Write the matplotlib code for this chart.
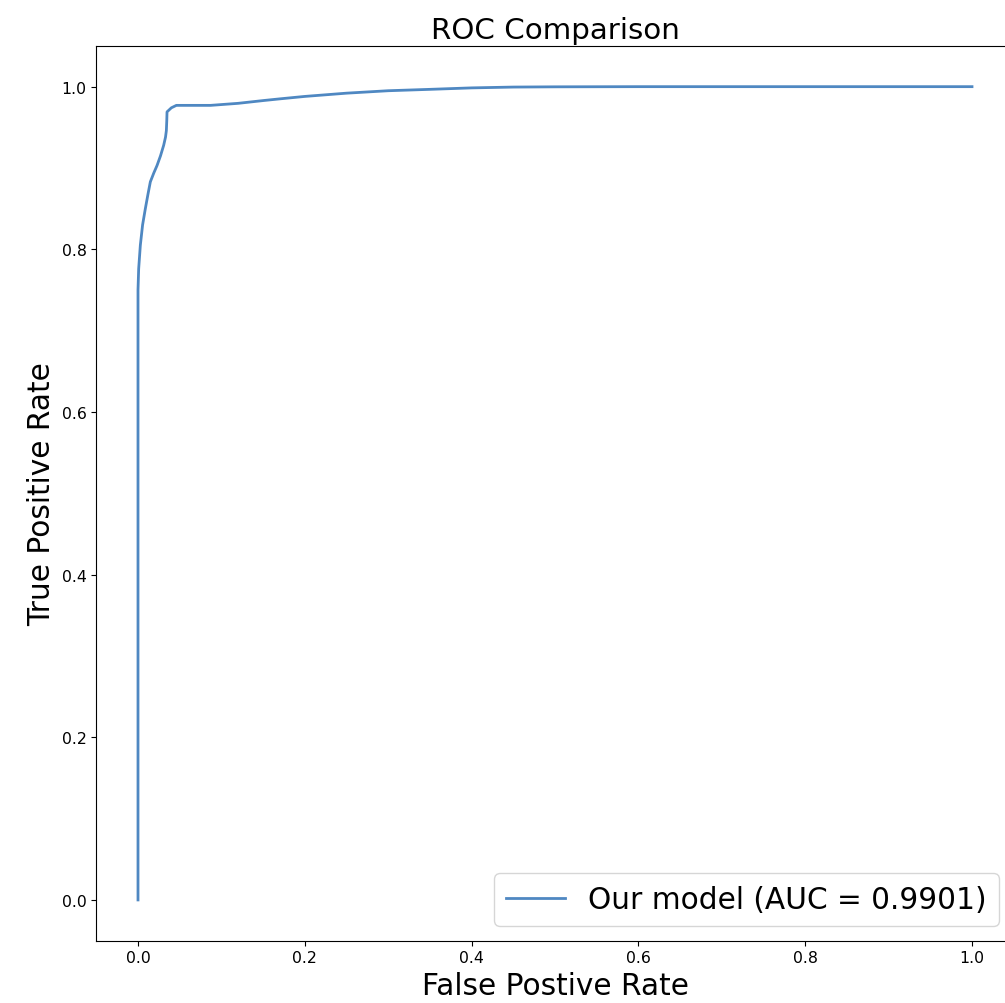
import matplotlib
matplotlib.use("Agg")
import matplotlib.pyplot as plt

# ROC curve points (false positive rate, true positive rate)
fpr = [0.0, 0.0, 0.0, 0.0008, 0.0028, 0.0055, 0.0088, 0.0120, 0.0148, 0.0190,
       0.0228, 0.0270, 0.0308, 0.0330, 0.0340, 0.0345, 0.0348, 0.0400, 0.0460,
       0.0870, 0.1200, 0.1510, 0.1700, 0.2000, 0.2500, 0.3000, 0.3500, 0.4000,
       0.4500, 0.5000, 0.6000, 0.8000, 1.0]
tpr = [0.0, 0.5000, 0.7500, 0.7760, 0.8050, 0.8300, 0.8500, 0.8680, 0.8830, 0.8940,
       0.9030, 0.9150, 0.9280, 0.9380, 0.9460, 0.9580, 0.9690, 0.9740, 0.9770,
       0.9770, 0.9795, 0.9830, 0.9850, 0.9880, 0.9920, 0.9950, 0.9967, 0.9985,
       0.9995, 0.9998, 1.0000, 1.0000, 1.0]
auc_value = 0.9901
model_name = "Our model"

fig = plt.figure(figsize=(10.05, 10.04), dpi=100)
ax = fig.add_axes([96.3 / 1005, 1 - 941.6 / 1004, 917.4 / 1005, 894.6 / 1004])

ax.plot(fpr, tpr, color="#4f88c2", linewidth=2.0,
        label=f"{model_name} (AUC = {auc_value:.4f})")

ax.set_title("ROC Comparison", fontsize=21.2)
ax.set_xlabel("False Postive Rate", fontsize=21.3)
ax.set_ylabel("True Positive Rate", fontsize=21.3)
ax.tick_params(labelsize=11.3)
ax.legend(loc="lower right", fontsize=21.3)

fig.savefig("out.png", dpi=100)
